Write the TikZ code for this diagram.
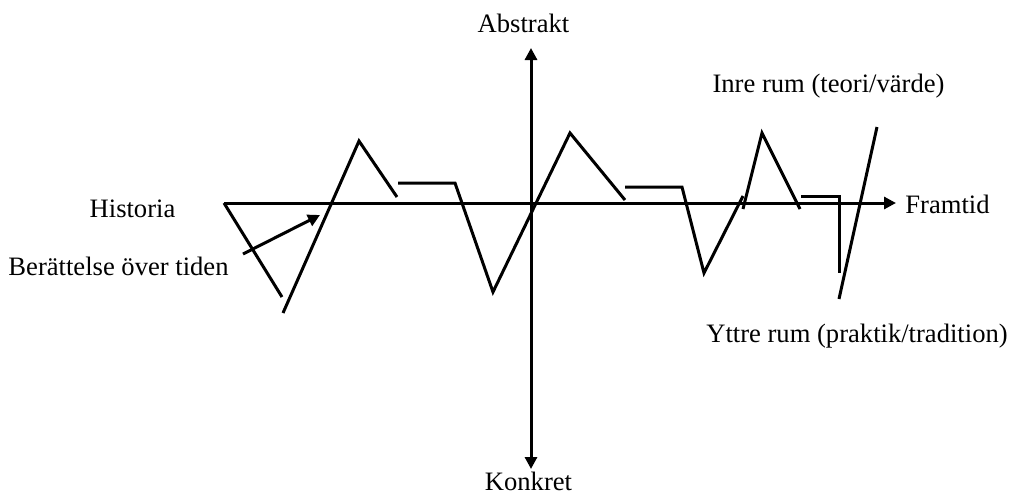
\documentclass[tikz,border=0pt]{standalone}
\usepackage{fontspec}
\setmainfont{Liberation Serif}
\usetikzlibrary{arrows.meta}

\begin{document}
\begin{tikzpicture}[
  x=0.5pt, y=-0.5pt,
  >={Triangle[length=6pt,width=6pt]},
  every node/.style={font=\fontsize{13.3}{16}\selectfont,
              anchor=base, inner sep=0pt},
  axis/.style={line width=1.5pt},
  zigzag/.style={line width=1.5pt},
]
  \useasboundingbox (0,0) rectangle (1009,493);

  \node (abstrakt) at (523.5, 32) {Abstrakt};
  \node (konkret) at (528.5, 490) {Konkret};
  \node (historia) at (132.5, 217) {Historia};
  \node (framtid) at (947.5, 213) {Framtid};
  \node (berattelse) at (118.5, 275) {Berättelse över tiden};
  \node (inre) at (828.5, 92) {Inre rum (teori/värde)};
  \node (yttre) at (857, 342) {Yttre rum (praktik/tradition)};

  \coordinate (hstart) at (224, 203);
  \coordinate (hend) at (896, 203);
  \coordinate (vtop) at (531, 48);
  \coordinate (vbot) at (531, 469);

  \draw[axis, ->] (hstart) -- (hend);
  \draw[axis, <->] (vbot) -- (vtop);

  \draw[zigzag] (hstart) -- (282, 297);
  \draw[zigzag] (283, 313) -- (359, 141) -- (397, 197);
  \draw[zigzag] (398, 183) -- (455, 183) -- (493, 292)
    -- (570, 133) -- (625, 200);
  \draw[zigzag] (625, 187) -- (682, 187) -- (704, 273) -- (743, 196);
  \draw[zigzag] (743, 209) -- (762, 133) -- (800, 209);
  \draw[zigzag] (801, 196) -- (839, 196) -- (839, 273);
  \draw[zigzag] (839, 299) -- (877, 127);

  \coordinate (pilstart) at (243, 254);
  \coordinate (pilslut) at (320, 215);
  \draw[axis, ->] (pilstart) -- (pilslut);
\end{tikzpicture}
\end{document}
